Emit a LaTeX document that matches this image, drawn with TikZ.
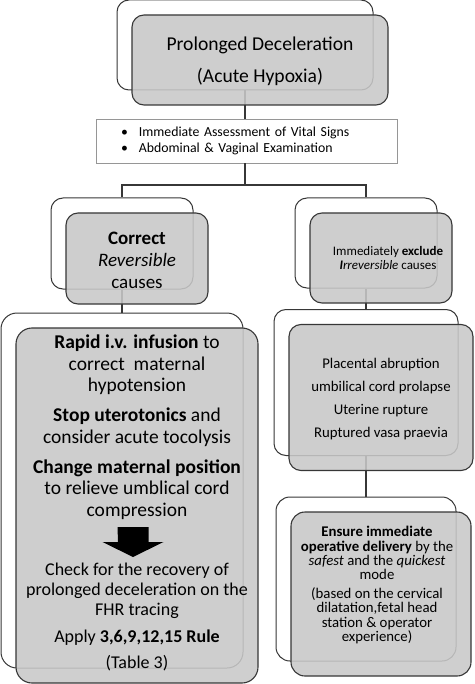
\documentclass[tikz,border=0pt]{standalone}
\usepackage{fontspec}
\setmainfont{Carlito}
\definecolor{cardgray}{RGB}{200,200,200}
\definecolor{cardline}{RGB}{55,55,55}
\definecolor{boxline}{RGB}{150,150,150}
\usetikzlibrary{positioning}
\newcommand{\fsz}[2]{\fontsize{#1}{#2}\selectfont\lineskiplimit=-20pt\relax}

\tikzset{
  backcard/.style={draw=cardline,line width=1pt,fill=white,rounded corners=12pt,inner sep=0pt},
  frontcard/.style={draw=cardline,line width=1.1pt,fill=cardgray,fill opacity=0.88,
                    rounded corners=12pt,inner sep=0pt},
  listbox/.style={draw=boxline,line width=0.9pt,fill=white,inner xsep=25pt,inner ysep=0pt,
                  text width=251pt,minimum height=44pt,align=left},
  say/.style={inner sep=0pt,align=center},
  link/.style={draw=cardline,line width=1.1pt}
}

\begin{document}
\begin{tikzpicture}[x=1pt,y=-1pt]
  \useasboundingbox (0,0) rectangle (474,684);

  % cards at the back
  \node[backcard,minimum width=256pt,minimum height=90pt] (hypoxiaback) at (245,45) {};
  \node[backcard,minimum width=142pt,minimum height=91pt] (correctback) at (122,243.5) {};
  \node[backcard,minimum width=142pt,minimum height=90pt] (excludeback) at (366,243) {};
  \node[backcard,minimum width=242pt,minimum height=355pt,rounded corners=16pt] (actionsback) at (122,490.5) {};
  \node[backcard,minimum width=184pt,minimum height=146pt] (causesback) at (366,382.5) {};
  \node[backcard,minimum width=180pt,minimum height=164pt,rounded corners=14pt] (deliveryback) at (366,579) {};

  \node[listbox,font=\fsz{13.8}{16}] (assess) at (246.5,141)
    {\textbullet\hspace{11pt}Immediate Assessment of Vital Signs\\
     \textbullet\hspace{11pt}Abdominal \& Vaginal Examination};

  % connectors
  \coordinate (split) at (245,185);
  \draw[link] (hypoxiaback.south) -- (hypoxiaback.south |- assess.north);
  \draw[link] (assess.south -| split) -- (split);
  \draw[link] (split) -| (correctback.north);
  \draw[link] (split) -| (excludeback.north);
  \draw[link] (correctback.south) -- (actionsback.north);
  \draw[link] (excludeback.south) -- (causesback.north);
  \draw[link] (causesback.south) -- (deliveryback.north);

  % cards at the front
  \node[frontcard,minimum width=256pt,minimum height=90pt] (hypoxia) at ([shift={(15pt,-15pt)}]hypoxiaback.center) {};
  \node[frontcard,minimum width=142pt,minimum height=91pt] (correct) at ([shift={(15pt,-15pt)}]correctback.center) {};
  \node[frontcard,minimum width=142pt,minimum height=90pt] (exclude) at ([shift={(15pt,-15pt)}]excludeback.center) {};
  \node[frontcard,minimum width=242pt,minimum height=355pt,rounded corners=16pt] (actions) at ([shift={(15pt,-15pt)}]actionsback.center) {};
  \node[frontcard,minimum width=184pt,minimum height=146pt] (causes) at ([shift={(15pt,-15pt)}]causesback.center) {};
  \node[frontcard,minimum width=180pt,minimum height=164pt,rounded corners=14pt] (delivery) at ([shift={(15pt,-15pt)}]deliveryback.center) {};

  % texts
  \node[say,font=\fsz{19.6}{32}] (hypoxiatext) at ([yshift=-1pt]hypoxia.center)
    {Prolonged Deceleration\\(Acute Hypoxia)};
  \node[say,font=\fsz{19}{22}] (correcttext) at ([yshift=-1.5pt]correct.center)
    {\textbf{Correct}\\\textit{Reversible}\\causes};
  \node[say,font=\fsz{13}{14.5}] (excludetext) at ([xshift=7pt]exclude.center)
    {Immediately \textbf{exclude}\\\textit{\textbf{I}rreversible} causes};
  \node[say,font=\fsz{14.8}{23}] (causestext) at ([yshift=-1.5pt]causes.center)
    {Placental abruption\\umbilical cord prolapse\\Uterine rupture\\Ruptured vasa praevia};
  \node[say,font=\fsz{14.8}{14.2}] (deliverytext) at ([shift={(-4pt,9pt)}]delivery.center)
    {\textbf{Ensure immediate}\\\textbf{operative delivery} by the\\\textit{safest} and the \textit{quickest}\\mode\\[5pt]
     (based on the cervical\\dilatation,fetal head\\station \& operator\\experience)};

  \node[say,font=\fsz{19.5}{21.5}] (measures) at (137,427)
    {\textbf{Rapid i.v. infusion} to\\correct~ maternal\\hypotension\\[8.5pt]
     \textbf{Stop uterotonics} and\\consider acute tocolysis\\[8.5pt]
     \textbf{Change maternal position}\\to relieve umblical cord\\compression};
  \node[say,font=\fsz{18}{20}] (recovery) at (137,616.5)
    {Check for the recovery of\\prolonged deceleration on the\\FHR tracing\\[7pt]
     Apply \textbf{3,6,9,12,15 Rule}\\[6pt](Table 3)};

  % block arrow
  \coordinate (arrowtop) at (133,527);
  \fill[black] (arrowtop) ++(-15.5,0) -- ++(31,0) -- ++(0,15) -- ++(15,0)
    -- ++(-30.5,15) -- ++(-30.5,-15) -- ++(15.5,0) -- cycle;
\end{tikzpicture}
\end{document}
